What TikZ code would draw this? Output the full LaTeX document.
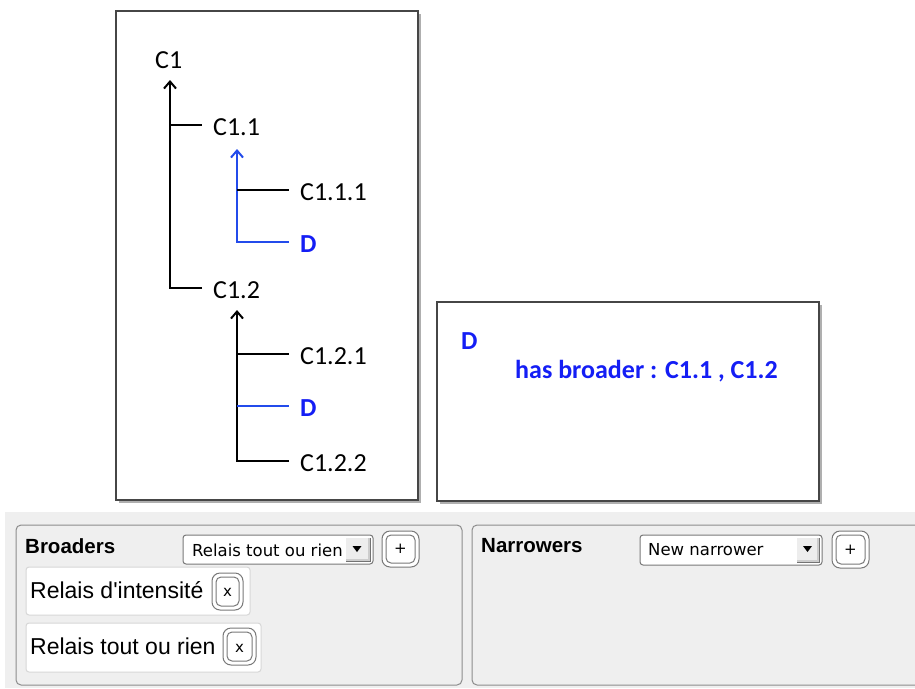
\documentclass[tikz,border=0pt]{standalone}
\usepackage{fontspec}
\setmainfont{Carlito}
\newfontfamily\uifont{Liberation Sans}
\newfontfamily\ddfont{DejaVu Sans}
\usetikzlibrary{arrows.meta}
\definecolor{dblue}{RGB}{20,30,245}
\definecolor{lblue}{RGB}{35,75,235}
\definecolor{boxgray}{RGB}{70,70,70}
\definecolor{shadowgray}{RGB}{175,175,175}
\definecolor{panelbg}{RGB}{239,239,239}
\definecolor{panelline}{RGB}{140,140,140}
\definecolor{chipline}{RGB}{215,215,215}
\definecolor{btnline}{RGB}{120,120,120}
\tikzset{
  lbl/.style={anchor=west,inner sep=0pt,font=\fontsize{26}{29}\selectfont},
  bluelbl/.style={anchor=west,inner sep=0pt,text=dblue,font=\fontsize{26}{29}\selectfont\bfseries},
  branch/.style={line width=2pt},
  arr/.style={line width=2.3pt,-{Straight Barb[length=7pt,width=12pt,line width=2pt]}},
  viewbox/.style={draw=boxgray,line width=2pt,fill=white},
  boxshadow/.style={fill=shadowgray},
  panel/.style={draw=panelline,line width=1pt,rounded corners=5pt,fill=panelbg},
  heading/.style={anchor=west,inner sep=0pt,font=\uifont\bfseries\fontsize{20.5}{24}\selectfont},
  chip/.style={draw=chipline,line width=1pt,rounded corners=3pt,fill=white},
  chiptext/.style={anchor=west,inner sep=0pt,font=\uifont\fontsize{23}{27}\selectfont},
  ddbox/.style={draw=btnline,line width=1pt,rounded corners=3pt,fill=white},
  ddtext/.style={anchor=west,inner sep=0pt,font=\ddfont\fontsize{16.5}{20}\selectfont},
  btnouter/.style={draw=btnline,line width=1pt,rounded corners=8pt,fill=white},
  btninner/.style={draw=btnline,line width=1pt,rounded corners=5pt,fill=white},
  btntext/.style={inner sep=0pt,font=\ddfont\fontsize{15}{18}\selectfont},
}
\begin{document}
\begin{tikzpicture}[x=1pt,y=-1pt]
\useasboundingbox (0,0) rectangle (915,688);

% ---------- left tree box ----------
\fill[boxshadow] (119,14) rectangle (421,503);
\draw[viewbox] (116,11) rectangle (418,500);

\node[lbl] (C1) at (155,60) {C1};
\node[lbl] (C11) at (213,127) {C1.1};
\node[lbl] (C111) at (300,192) {C1.1.1};
\node[bluelbl] (D1) at (300,244) {D};
\node[lbl] (C12) at (213,290) {C1.2};
\node[lbl] (C121) at (300,356) {C1.2.1};
\node[bluelbl] (D2) at (300,408) {D};
\node[lbl] (C122) at (300,463) {C1.2.2};

\coordinate (t1) at (170,80);
\coordinate (t11) at (237,149);
\coordinate (t12) at (237,310);

% C1 trunk
\draw[arr] ([xshift=-11pt]C12.west |- 0,288) -| (t1);
\draw[branch] (t1 |- 0,125) -- ([xshift=-11pt]C11.west |- 0,125);
% C1.1 trunk (blue)
\draw[arr,draw=lblue,line width=2pt] ([xshift=-11pt]D1.west |- 0,242) -| (t11);
\draw[branch] (t11 |- 0,190) -- ([xshift=-11pt]C111.west |- 0,190);
% C1.2 trunk
\draw[arr] ([xshift=-11pt]C122.west |- 0,461) -| (t12);
\draw[branch] (t12 |- 0,354) -- ([xshift=-11pt]C121.west |- 0,354);
\draw[branch,draw=lblue,line width=1.7pt] (t12 |- 0,406) -- ([xshift=-11pt]D2.west |- 0,406);

% ---------- right info box ----------
\fill[boxshadow] (440,305) rectangle (822,504);
\draw[viewbox] (437,302) rectangle (819,501);
\node[bluelbl] (DD) at (461,341) {D};
\node[bluelbl] (hb) at (515,371) {has broader : C1.1 , C1.2};

% ---------- bottom UI ----------
\fill[panelbg] (5,512) rectangle (915,688);
\draw[panel] (16,525) rectangle (462,685);
\draw[panel] (472,525) rectangle (930,685);

% Broaders
\node[heading] (brh) at (25,546) {Broaders};
\draw[ddbox] (183,535) rectangle (373,564);
\node[ddtext] (brdd) at (192,550) {Relais tout ou rien};
\fill[white!80!black] (346,538) rectangle (370,561);
\fill[white!93!black] (346,538) rectangle (368,559);
\draw[black!55,line width=1pt] (346,561) -- (370,561) -- (370,538);
\fill[black] (352.5,546) -- (361.5,546) -- (357,552) -- cycle;
\draw[btnouter] (382,531) rectangle (419,567);
\draw[btninner] (386,535) rectangle (415,563);
\node[btntext] (brplus) at (400.5,549) {+};

\draw[chip] (26,567) rectangle (250,615);
\node[chiptext] (ch1) at (30,590) {Relais d'intensité};
\draw[btnouter] (212,573) rectangle (243,610);
\draw[btninner] (216,577) rectangle (239,606);
\node[btntext] (x1) at (227.5,592) {x};

\draw[chip] (26,623) rectangle (261,672);
\node[chiptext] (ch2) at (30,646) {Relais tout ou rien};
\draw[btnouter] (223,628) rectangle (256,665);
\draw[btninner] (227,632) rectangle (252,661);
\node[btntext] (x2) at (239.5,648) {x};

% Narrowers
\node[heading] (nah) at (481,546) {Narrowers};
\draw[ddbox] (640,535) rectangle (822,565);
\node[ddtext] (nadd) at (648,550) {New narrower};
\fill[white!80!black] (797,538) rectangle (819,562);
\fill[white!93!black] (797,538) rectangle (817,560);
\draw[black!55,line width=1pt] (797,562) -- (819,562) -- (819,538);
\fill[black] (803,546) -- (812,546) -- (807.5,552) -- cycle;
\draw[btnouter] (832,531) rectangle (869,568);
\draw[btninner] (836,535) rectangle (865,564);
\node[btntext] (naplus) at (850.5,550) {+};
\end{tikzpicture}
\end{document}
